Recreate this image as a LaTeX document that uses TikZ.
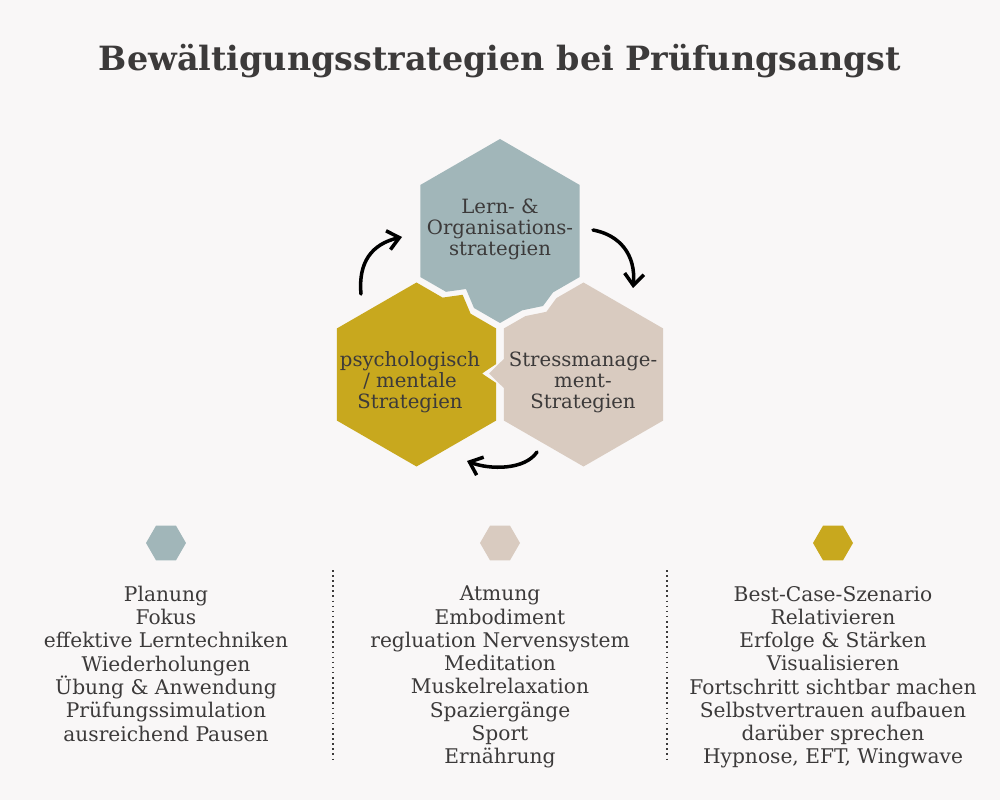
\documentclass[tikz,border=0pt]{standalone}
\usepackage{fontspec}
\setmainfont{DejaVu Serif}
\usetikzlibrary{positioning,shapes.geometric,arrows.meta}

\definecolor{paper}{HTML}{F9F7F7}
\definecolor{ink}{HTML}{3C3A3A}
\definecolor{lernblue}{HTML}{A1B6B9}
\definecolor{stressbeige}{HTML}{D9CBC0}
\definecolor{psychgold}{HTML}{C8A81E}

\begin{document}
\begin{tikzpicture}[x=0.02cm, y=-0.02cm,
  hexlabel/.style = {align=center, text=ink, inner sep=0pt, font=\fontsize{11.2}{11.9}\selectfont},
  minihex/.style = {regular polygon, regular polygon sides=6, minimum size=0.8cm, inner sep=0pt},
  listtext/.style = {align=center, text=ink, inner sep=0pt, font=\fontsize{11.5}{13.25}\selectfont},
  turn/.style = {line width=2pt, line cap=round, -{Straight Barb[length=6.5pt,width=11pt]}},
  sep/.style = {ink, dotted, line width=0.9pt}]
  % background
  \fill[paper] (0,0) rectangle (1000,800);
  \node[text=ink, font=\bfseries\fontsize{19}{24}\selectfont] (title) at (500,61) {Bewältigungsstrategien bei Prüfungsangst};

  % the three puzzle hexagons
  \fill[lernblue] (500,139) -- (579.7,185) -- (579.7,277) -- (553,292.4) -- (543,306) -- (522,310.4)
    -- (500,323) -- (474,308) -- (466,289) -- (446,291.8) -- (420.3,277) -- (420.3,185) -- cycle;
  \fill[stressbeige] (583.5,282.5) -- (663.2,328.5) -- (663.2,420.5) -- (583.5,466.5) -- (503.8,420.5)
    -- (503.8,388) -- (489,373.5) -- (503.8,359) -- (503.8,328.5) -- (525.4,316.1) -- (546.4,311.8)
    -- (556.4,298.1) -- cycle;
  \fill[psychgold] (416.5,282.5) -- (442.6,297.6) -- (462.6,294.8) -- (470.6,313.7) -- (496.2,328.5)
    -- (496.2,364) -- (482,373.5) -- (496.2,383) -- (496.2,420.5) -- (416.5,466.5) -- (336.8,420.5)
    -- (336.8,328.5) -- cycle;

  \node[hexlabel] (lern) at (500,229) {Lern- \&\\Organisations-\\strategien};
  \node[hexlabel] (stress) at (583,382) {Stressmanage-\\ment-\\Strategien};
  \node[hexlabel] (psych) at (410,382) {psychologisch\\/ mentale\\Strategien};

  % arrows round the cycle
  \coordinate (a1) at (361,294);
  \coordinate (b1) at (402,237);
  \coordinate (a2) at (593,230);
  \coordinate (b2) at (633,288);
  \coordinate (a3) at (537,452);
  \coordinate (b3) at (467,461);
  \draw[turn] (a1) .. controls (358,262) and (372,244) .. (b1);
  \draw[turn] (a2) .. controls (620,235) and (636,255) .. (b2);
  \draw[turn] (a3) .. controls (525,470) and (490,470) .. (b3);

  % small hexagons and lists
  \node[minihex, fill=lernblue] (h1) at (166,543) {};
  \node[minihex, fill=stressbeige] (h2) at (500,543) {};
  \node[minihex, fill=psychgold] (h3) at (833,543) {};

  \node[listtext, below=0.5cm of h1] (l1) {Planung\\Fokus\\effektive Lerntechniken\\Wiederholungen\\Übung \& Anwendung\\Prüfungssimulation\\ausreichend Pausen};
  \node[listtext, below=0.5cm of h2] (l2) {Atmung\\Embodiment\\regluation Nervensystem\\Meditation\\Muskelrelaxation\\Spaziergänge\\Sport\\Ernährung};
  \node[listtext, below=0.5cm of h3] (l3) {Best-Case-Szenario\\Relativieren\\Erfolge \& Stärken\\Visualisieren\\Fortschritt sichtbar machen\\Selbstvertrauen aufbauen\\darüber sprechen\\Hypnose, EFT, Wingwave};

  \coordinate (s1) at (333,570);
  \coordinate (t1) at (333,759);
  \coordinate (s2) at (667,570);
  \coordinate (t2) at (667,759);
  \draw[sep] (s1) -- (t1);
  \draw[sep] (s2) -- (t2);
\end{tikzpicture}
\end{document}
